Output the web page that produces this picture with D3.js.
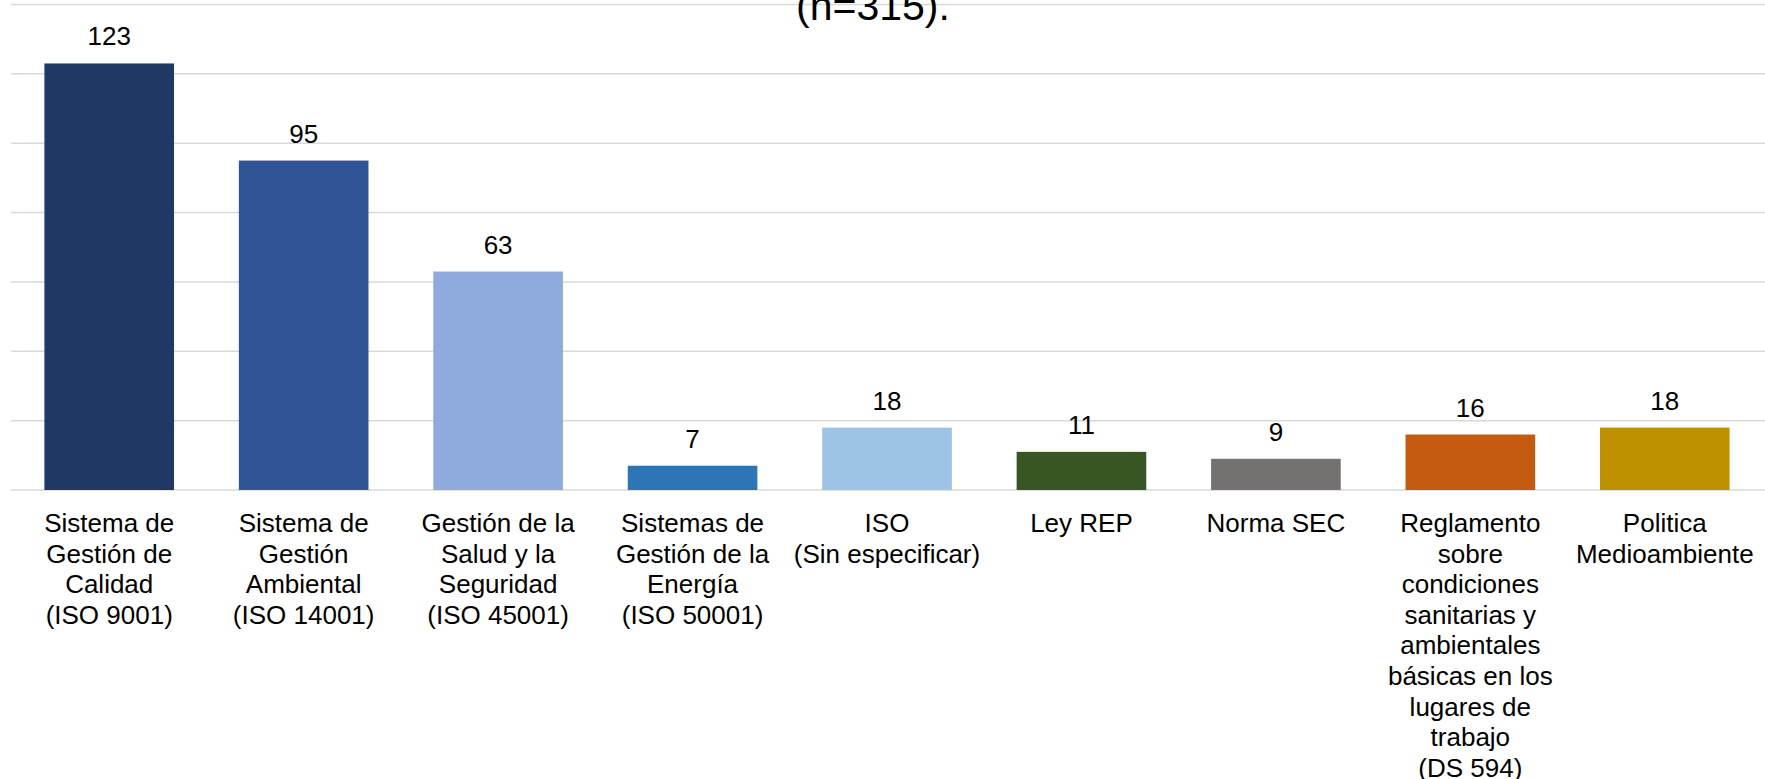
<!DOCTYPE html>
<html>
<head>
<meta charset="utf-8">
<script src="https://cdn.jsdelivr.net/npm/d3@7"></script>
<style>
  html, body { margin: 0; padding: 0; background: #fff; }
  svg { display: block; font-family: Arial, "Liberation Sans", sans-serif; }
</style>
</head>
<body>
<div id="chart"></div>
<script>
// data
const categories = [
  ['Sistema de', 'Gestión de', 'Calidad', '(ISO 9001)'],
  ['Sistema de', 'Gestión', 'Ambiental', '(ISO 14001)'],
  ['Gestión de la', 'Salud y la', 'Seguridad', '(ISO 45001)'],
  ['Sistemas de', 'Gestión de la', 'Energía', '(ISO 50001)'],
  ['ISO', '(Sin especificar)'],
  ['Ley REP'],
  ['Norma SEC'],
  ['Reglamento', 'sobre', 'condiciones', 'sanitarias y', 'ambientales', 'básicas en los', 'lugares de', 'trabajo', '(DS 594)'],
  ['Politica', 'Medioambiente'],
];
const values = [123, 95, 63, 7, 18, 11, 9, 16, 18];
const barColors = ['#203864', '#2F5597', '#8FAADC', '#2E75B6', '#9DC3E6', '#375623', '#767171', '#C55A11', '#BF9000'];
const yTicks = [0, 20, 40, 60, 80, 100, 120, 140];
const titleText = '(n=315).';

const W = 1765;
const H = 779;
const plot = { left: 12, right: 1762, top: 4.5, bottom: 490 };

const svg = d3.select('#chart').append('svg')
  .attr('width', W)
  .attr('height', H);

const x = d3.scaleBand()
  .domain(d3.range(values.length))
  .range([plot.left, plot.right])
  .paddingInner(1 / 3)
  .paddingOuter(1 / 6);

const y = d3.scaleLinear()
  .domain([0, 140])
  .range([plot.bottom, plot.top]);

// gridlines
svg.append('g')
  .selectAll('line')
  .data(yTicks)
  .enter().append('line')
  .attr('x1', 11)
  .attr('x2', W)
  .attr('y1', d => y(d))
  .attr('y2', d => y(d))
  .attr('stroke', '#d9d9d9')
  .attr('stroke-width', 1.5);

// title (only last line visible)
svg.append('text')
  .attr('x', 873)
  .attr('y', 20)
  .attr('text-anchor', 'middle')
  .attr('font-size', 41)
  .attr('fill', '#000')
  .text(titleText);

// bars
svg.append('g')
  .selectAll('rect')
  .data(values)
  .enter().append('rect')
  .attr('x', (d, i) => x(i))
  .attr('width', x.bandwidth())
  .attr('y', d => y(d))
  .attr('height', d => plot.bottom - y(d))
  .attr('fill', (d, i) => barColors[i]);

// value labels
svg.append('g')
  .selectAll('text')
  .data(values)
  .enter().append('text')
  .attr('x', (d, i) => x(i) + x.bandwidth() / 2)
  .attr('y', d => y(d) - 18)
  .attr('text-anchor', 'middle')
  .attr('font-size', 26)
  .attr('fill', '#000')
  .text(d => d);

// category labels
const labels = svg.append('g')
  .selectAll('text')
  .data(categories)
  .enter().append('text')
  .attr('x', (d, i) => x(i) + x.bandwidth() / 2)
  .attr('y', 532)
  .attr('text-anchor', 'middle')
  .attr('font-size', 26)
  .attr('fill', '#000');

labels.selectAll('tspan')
  .data(d => d)
  .enter().append('tspan')
  .attr('x', function () { return d3.select(this.parentNode).attr('x'); })
  .attr('dy', (d, i) => (i === 0 ? 0 : 30.6))
  .text(d => d);
</script>
</body>
</html>
